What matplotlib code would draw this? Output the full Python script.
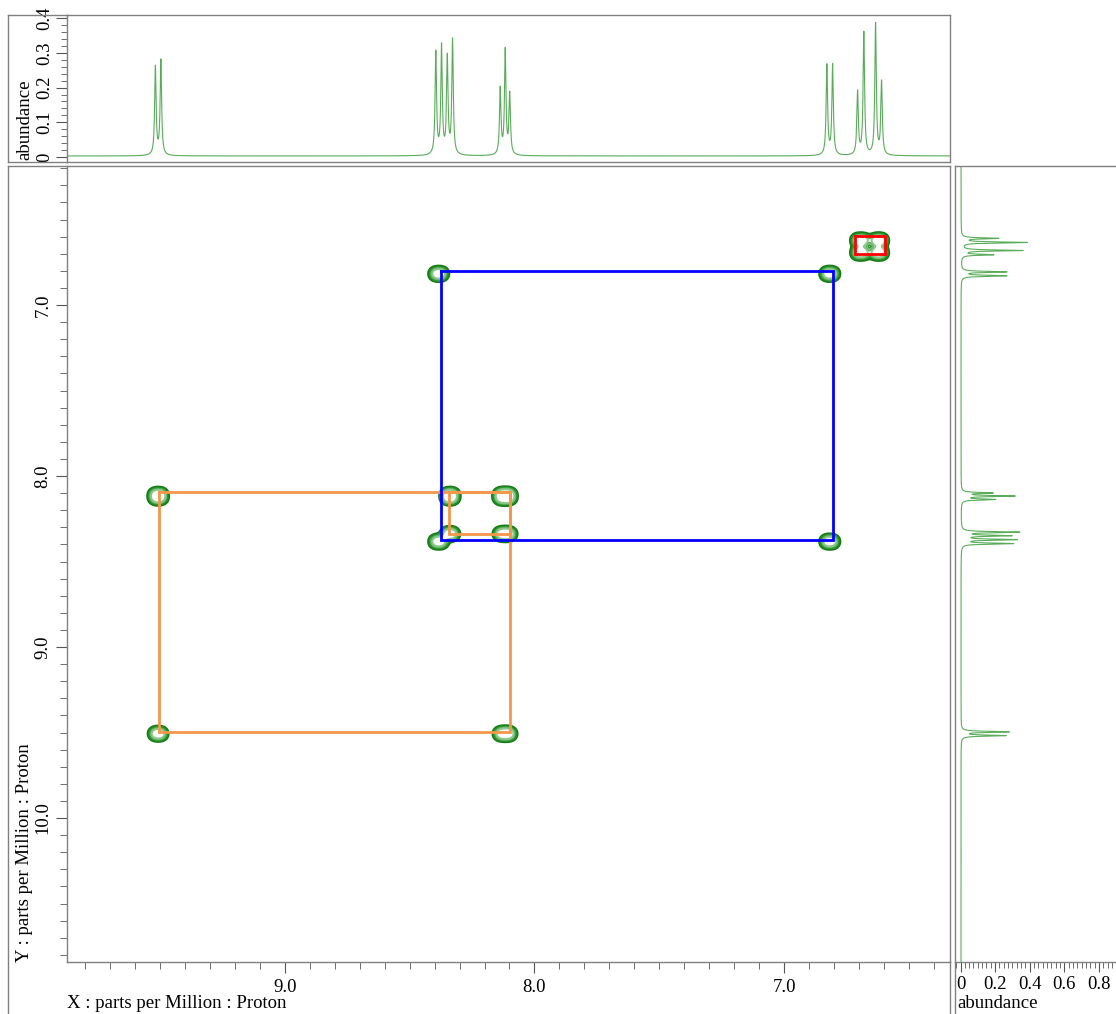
import numpy as np
import matplotlib
matplotlib.use("Agg")
import matplotlib.pyplot as plt
from matplotlib.lines import Line2D
from matplotlib.ticker import MultipleLocator, FixedLocator

plt.rcParams['font.family'] = ['Liberation Serif', 'DejaVu Serif']
plt.rcParams['font.size'] = 13.5

# ---------------- data ----------------
# 1D proton spectrum lines (ppm) and their heights (abundance)
peak_ppm = [9.518, 9.496, 8.395, 8.372, 8.349, 8.328, 8.137, 8.117, 8.099,
            6.829, 6.806, 6.706, 6.681, 6.634, 6.610]
peak_height = [0.255, 0.274, 0.296, 0.311, 0.278, 0.330, 0.191, 0.301, 0.174,
               0.260, 0.260, 0.182, 0.353, 0.378, 0.210]
baseline_level = 0.003

# multiplets (line positions, ppm)
mult_H1 = [9.518, 9.496]
mult_A = [8.395, 8.372]
mult_B = [8.349, 8.328]
mult_C = [8.137, 8.117, 8.099]
mult_D = [6.829, 6.806]
mult_E = [6.706, 6.681]
mult_F = [6.634, 6.610]

# cross peaks (x multiplet, y multiplet)
cross_pairs = [
    (mult_H1, mult_H1), (mult_A, mult_A), (mult_B, mult_B), (mult_C, mult_C),
    (mult_D, mult_D), (mult_E, mult_E), (mult_F, mult_F),
    (mult_A, mult_D), (mult_D, mult_A),
    (mult_H1, mult_C), (mult_C, mult_H1),
    (mult_B, mult_C), (mult_C, mult_B),
    (mult_E, mult_F), (mult_F, mult_E),
]

# correlation boxes (x corners, y corners) in ppm
blue_x = [8.374, 6.806]
blue_y = [6.800, 8.374]
orange_x = [9.503, 8.097]
orange_y = [8.094, 9.497]
orange_small_x = [8.342, 8.097]
orange_small_y = [8.094, 8.339]
red_x = [6.716, 6.596]
red_y = [6.596, 6.702]

x_ticks = [9.0, 8.0, 7.0]
y_ticks = [7.0, 8.0, 9.0, 10.0]
abund_ticks = [0, 0.1, 0.2, 0.3, 0.4]
abund_ticks_right = [0, 0.2, 0.4, 0.6, 0.8]

# ---------------- figure ----------------
W, H = 1116, 1014
fig = plt.figure(figsize=(W / 100, H / 100), dpi=100)

def px_axes(l, t, r, b):
    return fig.add_axes([l / W, 1 - b / H, (r - l) / W, (b - t) / H])

ax = px_axes(67, 166, 950, 962)
axt = px_axes(67, 15, 950, 162)
axr = px_axes(955, 166, 1155, 962)

frame_col = '#808080'
xlim = (9.872, 6.336)
ylim = (10.842, 6.187)

# ---- spectrum curves ----
grid = np.linspace(6.1, 10.95, 15000)
hw = 0.0035
spec = np.full_like(grid, baseline_level)
for p, h in zip(peak_ppm, peak_height):
    spec += h / (1 + ((grid - p) / hw) ** 2)

spec_col = '#3d9e3d'
axt.plot(grid, spec, color=spec_col, lw=0.8, alpha=0.85)
axt.set_xlim(xlim)
axt.set_ylim(-0.0144, 0.409)
axt.set_xticks([])
axt.yaxis.set_major_locator(FixedLocator(abund_ticks))
axt.yaxis.set_minor_locator(MultipleLocator(0.02))
axt.set_yticklabels(['0', '0.1', '0.2', '0.3', '0.4'])
axt.tick_params(axis='y', which='major', length=8, direction='out', labelrotation=90,
                color='#555555', pad=2)
axt.tick_params(axis='y', which='minor', length=4, direction='out', color='#555555')
for t in axt.get_yticklabels():
    t.set_va('center')

px_per_unit = 173
axr.plot(spec, grid, color=spec_col, lw=0.8, alpha=0.85)
axr.set_ylim(ylim)
axr.set_xlim(-5.5 / px_per_unit, (200 - 5.5) / px_per_unit)
axr.set_yticks([])
axr.xaxis.set_major_locator(FixedLocator(abund_ticks_right))
axr.xaxis.set_minor_locator(MultipleLocator(0.025))
axr.set_xticklabels(['0', '0.2', '0.4', '0.6', '0.8'])
axr.tick_params(axis='x', which='major', length=7, direction='out', color='#555555', pad=3)
axr.tick_params(axis='x', which='minor', length=4, direction='out', color='#555555')
axr.spines['right'].set_visible(False)

# ---- 2D contour map ----
cx, cy = [], []
for mx, my in cross_pairs:
    for a in mx:
        for b in my:
            cx.append(a)
            cy.append(b)
cx = np.array(cx)
cy = np.array(cy)
xs = np.linspace(6.3, 9.9, 1800)
ys = np.linspace(6.15, 10.9, 1900)
sx, sy = 0.015, 0.018
Gx = np.exp(-0.5 * ((xs[None, :] - cx[:, None]) / sx) ** 2)
Gy = np.exp(-0.5 * ((ys[None, :] - cy[:, None]) / sy) ** 2)
Z = Gy.T @ Gx
levels = [0.2, 0.38, 0.6, 0.85, 1.15]
cols = ['#137a13', '#1f8a1f', '#3a9a3a', '#66b366', '#8cc98c']
ax.contour(xs, ys, Z, levels=levels, colors=cols, linewidths=1.4)

# ---- correlation boxes ----
def box(xc, yc, color):
    ax.plot([xc[0], xc[1], xc[1], xc[0], xc[0]],
            [yc[0], yc[0], yc[1], yc[1], yc[0]], color=color, lw=2.0,
            solid_joinstyle='miter')

box(orange_x, orange_y, '#f4974a')
box(orange_small_x, orange_small_y, '#f4974a')
box(blue_x, blue_y, '#0000ff')
box(red_x, red_y, '#ff0000')

ax.set_xlim(xlim)
ax.set_ylim(ylim)
ax.xaxis.set_major_locator(FixedLocator(x_ticks))
ax.xaxis.set_minor_locator(MultipleLocator(0.1))
ax.yaxis.set_major_locator(FixedLocator(y_ticks))
ax.yaxis.set_minor_locator(MultipleLocator(0.1))
ax.set_xticklabels(['9.0', '8.0', '7.0'])
ax.set_yticklabels(['7.0', '8.0', '9.0', '10.0'])
ax.tick_params(which='major', length=8, direction='out', color='#555555', pad=4)
ax.tick_params(which='minor', length=5, direction='out', color='#555555')
ax.tick_params(axis='y', labelrotation=90, pad=3)
for t in ax.get_yticklabels():
    t.set_va('center')

for a in (ax, axt, axr):
    for s in a.spines.values():
        s.set_color(frame_col)
        s.set_linewidth(1.0)

# ---- outer frames ----
def fline(x0, y0, x1, y1):
    fig.add_artist(Line2D([x0 / W, x1 / W], [1 - y0 / H, 1 - y1 / H],
                          transform=fig.transFigure, color=frame_col, lw=1.0))

fline(8, 15, 67, 15)
fline(8, 15, 8, 162)
fline(8, 162, 67, 162)
fline(8, 166, 67, 166)
fline(8, 166, 8, 1014)
fline(955, 962, 955, 1014)
fline(950, 962, 950, 1014)

# ---- labels ----
fig.text(67 / W, 1 - 1003 / H, 'X : parts per Million : Proton', ha='left', va='center')
fig.text(25 / W, 1 - 962 / H, 'Y : parts per Million : Proton', ha='center', va='bottom',
         rotation=90)
fig.text(25 / W, 1 - 160 / H, 'abundance', ha='center', va='bottom', rotation=90)
fig.text(957 / W, 1 - 1003 / H, 'abundance', ha='left', va='center')

fig.savefig('out.png', dpi=100)
